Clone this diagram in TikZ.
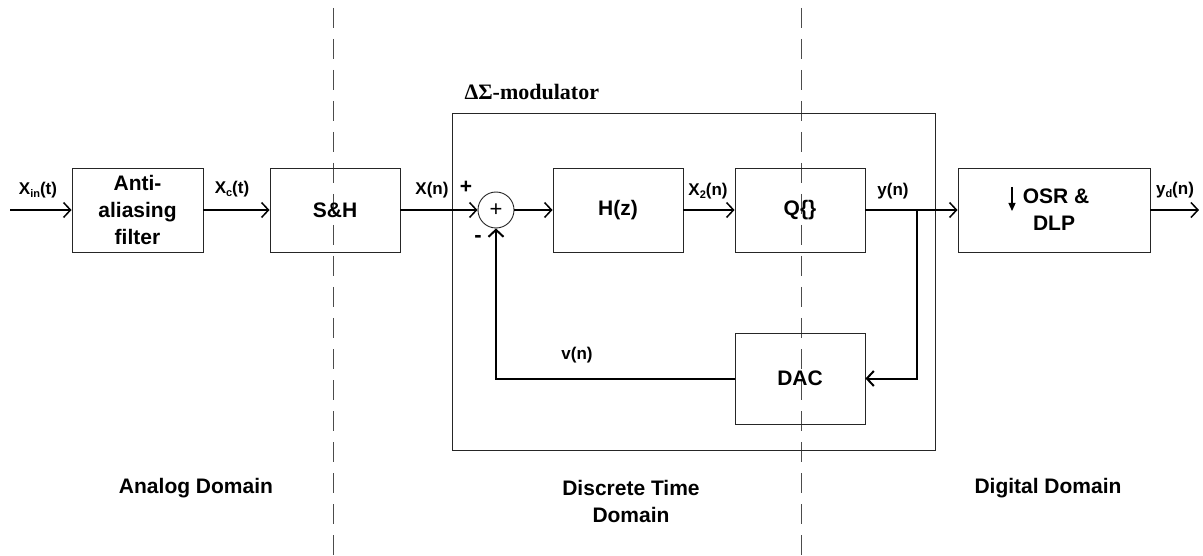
\documentclass[tikz,border=0pt]{standalone}
\usepackage{fontspec}
\setmainfont{Liberation Sans}
\newfontfamily\titleserif{Liberation Serif}
\usetikzlibrary{arrows.meta, positioning, calc}
\newcommand{\lowsub}[1]{\raisebox{-0.3ex}{\fontsize{11}{11}\selectfont #1}}

\begin{document}
\begin{tikzpicture}[x=1pt, y=-1pt,
    block/.style={draw=black!85, line width=0.9pt, minimum width=130, minimum height=84,
                  font=\fontsize{21}{27}\selectfont\bfseries, align=center},
    sig/.style={line width=1.5pt, -{Straight Barb[length=7pt,width=15pt]}},
    fback/.style={line width=2pt, -{Straight Barb[length=7pt,width=15pt]}},
    lbl/.style={font=\fontsize{17}{20}\selectfont\bfseries},
    domlabel/.style={font=\fontsize{21}{27}\selectfont\bfseries, align=center},
    border/.style={draw=black!70, line width=1pt, dash pattern=on 20pt off 11pt}]
    \useasboundingbox (0,0) rectangle (1203,556);

    % Domain borders
    \draw[border] (333,8) -- (333,556);
    \draw[border] (801,8) -- (801,556);

    % Modulator frame
    \node[draw=black!85, line width=0.9pt, minimum width=483, minimum height=337] (mod) at (693.5,281.5) {};
    \node[anchor=west, font=\titleserif\fontsize{22}{22}\selectfont\bfseries] (title) at (461,92) {ΔΣ-modulator};

    % Blocks
    \node[block, minimum width=131] (aaf) at (137.5,210) {Anti-\\aliasing\\filter};
    \node[block] (sh) at (335,210) {S\&H};
    \node[draw=black!85, circle, minimum size=36, inner sep=0pt, line width=0.9pt,
          font=\fontsize{22}{22}\selectfont] (sum) at (496,210) {+};
    \node[block] (hz) at (618,210) {H(z)};
    \node[block] (q) at (800,210) {Q\{\}};
    \node[block, minimum width=192] (osr) at (1054,210) {\hspace*{4pt}OSR \&\\DLP};
    \node[block, minimum height=91] (dac) at (800,378.5) {DAC};
    \draw[line width=1.3pt, -{Triangle[length=8pt,width=7pt]}] ($(osr.center)+(-42,-23)$) -- ($(osr.center)+(-42,1)$);

    % Signals
    \coordinate (in) at (10,210);
    \coordinate (out) at (1199,210);
    \coordinate (br) at (917,210);
    \draw[sig] (in) -- (aaf.west);
    \draw[sig] (aaf.east) -- (sh.west);
    \draw[sig] (sh.east) -- (sum.west);
    \draw[sig] (sum.east) -- (hz.west);
    \draw[sig] (hz.east) -- (q.west);
    \draw[sig] (q.east) -- (osr.west);
    \draw[sig] (osr.east) -- (out);

    % Feedback loop
    \draw[fback] (br) |- (dac.east);
    \draw[fback] (dac.west) -| (sum.south);

    % Signal labels
    \node[lbl] (xin) at (38,190) {X\lowsub{in}(t)};
    \node[lbl] (xc) at (232,189) {X\lowsub{c}(t)};
    \node[lbl] (xn) at (432,190) {X(n)};
    \node[lbl, font=\fontsize{21}{21}\selectfont\bfseries] (plus) at (466,187) {+};
    \node[lbl, font=\fontsize{22}{22}\selectfont\bfseries] (minus) at (478,239) {-};
    \node[lbl] (x2) at (708,191) {X\lowsub{2}(n)};
    \node[lbl] (yn) at (893,191) {y(n)};
    \node[lbl] (yd) at (1175,190) {y\lowsub{d}(n)};
    \node[lbl] (vn) at (577,355) {v(n)};

    % Domains
    \node[domlabel] (analog) at (196,488) {Analog Domain};
    \node[domlabel] (discrete) at (631,501) {Discrete Time\\Domain};
    \node[domlabel] (digital) at (1048,488) {Digital Domain};
\end{tikzpicture}
\end{document}
